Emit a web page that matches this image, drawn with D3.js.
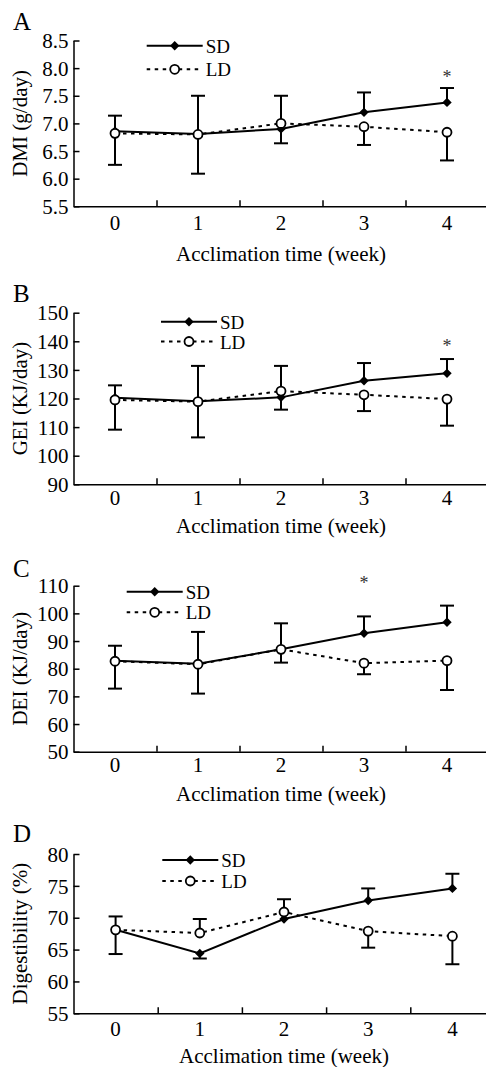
<!DOCTYPE html>
<html lang="en">
<head>
    <meta charset="UTF-8">
    <script src="https://d3js.org/d3.v7.min.js"></script>
    <title>Acclimation</title>
    <style>
        body { margin: 0; background: white; }
        svg text { font-family: "Liberation Serif", "Times New Roman", serif; fill: #000; }
        .axis path, .axis line { stroke: #000; stroke-width: 1.5px; }
    </style>
</head>
<body>
    <div id="chart"></div>

    <script>
        // data (mean, signed error bar: + up, - down)
        const weeks = [0, 1, 2, 3, 4];
        const seriesNames = ["SD", "LD"];

        const dmiSD = [6.86, 6.81, 6.90, 7.20, 7.38];
        const dmiLD = [6.82, 6.80, 7.00, 6.94, 6.84];
        const dmiSDErr = [0.28, 0.69, -0.26, 0.36, 0.26];
        const dmiLDErr = [-0.57, -0.71, 0.50, -0.33, -0.51];

        const geiSD = [120.3, 119.0, 120.4, 126.2, 128.8];
        const geiLD = [119.5, 118.9, 122.6, 121.3, 119.8];
        const geiSDErr = [4.3, 12.4, -4.3, 6.2, 5.0];
        const geiLDErr = [-10.4, -12.5, 8.8, -5.7, -9.3];

        const deiSD = [82.9, 81.8, 87.0, 92.8, 96.8];
        const deiLD = [82.7, 81.6, 87.0, 82.0, 82.9];
        const deiSDErr = [5.4, 11.5, 9.4, 6.1, 6.0];
        const deiLDErr = [-9.9, -10.6, -4.8, -4.0, -10.6];

        const digSD = [68.1, 64.4, 69.8, 72.7, 74.6];
        const digLD = [68.1, 67.6, 70.9, 67.9, 67.1];
        const digSDErr = [2.1, -0.8, 0, 1.9, 2.3];
        const digLDErr = [-3.8, 2.2, 2.0, -2.6, -4.4];

        const panelLetters = ["A", "B", "C", "D"];
        const yTitles = ["DMI (g/day)", "GEI (KJ/day)", "DEI (KJ/day)", "Digestibility (%)"];
        const xTitle = "Acclimation time (week)";
        const yDomains = [[5.5, 8.5], [90, 150], [50, 110], [55, 80]];
        const yTicksA = [5.5, 6.0, 6.5, 7.0, 7.5, 8.0, 8.5];
        const yTicksB = [90, 100, 110, 120, 130, 140, 150];
        const yTicksC = [50, 60, 70, 80, 90, 100, 110];
        const yTicksD = [55, 60, 65, 70, 75, 80];
        const sigWeek = [4, 4, 3, null];
        const sigLevel = [7.89, 139.3, 112.1, null];

        const panelData = [
            { sd: dmiSD, ld: dmiLD, sdErr: dmiSDErr, ldErr: dmiLDErr, ticks: yTicksA, fmt: ".1f" },
            { sd: geiSD, ld: geiLD, sdErr: geiSDErr, ldErr: geiLDErr, ticks: yTicksB, fmt: "d" },
            { sd: deiSD, ld: deiLD, sdErr: deiSDErr, ldErr: deiLDErr, ticks: yTicksC, fmt: "d" },
            { sd: digSD, ld: digLD, sdErr: digSDErr, ldErr: digLDErr, ticks: yTicksD, fmt: "d" }
        ];

        // pixel layout of each panel
        const layout = [
            { top: 40.5, bottom: 206.3, right: 488.5, letterY: 30, labelY: 24, titleY: 55, legX: 146.7, legY: 45.7, legGap: 23.6 },
            { top: 312.7, bottom: 484.3, right: 488.5, letterY: 301.7, labelY: 21, titleY: 49, legX: 161, legY: 321.7, legGap: 19.8 },
            { top: 585.7, bottom: 751.7, right: 488.5, letterY: 577, labelY: 20, titleY: 49, legX: 126.7, legY: 591.7, legGap: 20.6 },
            { top: 854, bottom: 1013.3, right: 494.5, letterY: 842, labelY: 22.5, titleY: 50, legX: 162.3, legY: 860, legGap: 21 }
        ];

        const W = 486, H = 1067, left = 73.5;
        const svg = d3.select("#chart").append("svg")
            .attr("width", W)
            .attr("height", H);

        const diamond = d3.symbol(d3.symbolSquare, 44);
        const fontSize = 21;

        panelData.forEach((p, i) => {
            const L = layout[i];
            const g = svg.append("g");

            const x = d3.scaleLinear().domain([-0.5, 4.5]).range([left, L.right]);
            const y = d3.scaleLinear().domain(yDomains[i]).range([L.bottom, L.top]);

            // y axis, ticks pointing inside
            g.append("g")
                .attr("class", "axis")
                .attr("transform", `translate(${left},0)`)
                .call(d3.axisLeft(y).tickValues(p.ticks).tickFormat(d3.format(p.fmt))
                    .tickSizeInner(-6).tickSizeOuter(0).tickPadding(5))
                .attr("font-family", null)
                .selectAll("text")
                .style("font-size", fontSize + "px")
                .attr("dy", "0.34em");

            // x axis, ticks between weeks
            g.append("g")
                .attr("class", "axis")
                .attr("transform", `translate(0,${L.bottom})`)
                .call(d3.axisBottom(x).tickValues([0.5, 1.5, 2.5, 3.5]).tickFormat("")
                    .tickSizeInner(-6).tickSizeOuter(0));

            g.selectAll(".xlab")
                .data(weeks)
                .enter()
                .append("text")
                .attr("x", d => x(d))
                .attr("y", L.bottom + L.labelY)
                .attr("text-anchor", "middle")
                .style("font-size", fontSize + "px")
                .text(d => d);

            g.append("text")
                .attr("x", x(2))
                .attr("y", L.bottom + L.titleY)
                .attr("text-anchor", "middle")
                .style("font-size", fontSize + "px")
                .text(xTitle);

            g.append("text")
                .attr("transform", `translate(27,${(L.top + L.bottom) / 2}) rotate(-90)`)
                .attr("text-anchor", "middle")
                .style("font-size", fontSize + "px")
                .text(yTitles[i]);

            g.append("text")
                .attr("x", 13)
                .attr("y", L.letterY)
                .style("font-size", "25px")
                .text(panelLetters[i]);

            // error bars
            const bars = [];
            weeks.forEach((w, k) => {
                bars.push({ w: w, v: p.sd[k], e: p.sdErr[k] });
                bars.push({ w: w, v: p.ld[k], e: p.ldErr[k] });
            });
            const eb = g.selectAll(".eb")
                .data(bars.filter(b => b.e !== 0))
                .enter()
                .append("g");
            eb.append("line")
                .attr("x1", d => x(d.w)).attr("x2", d => x(d.w))
                .attr("y1", d => y(d.v)).attr("y2", d => y(d.v + d.e))
                .attr("stroke", "#000").attr("stroke-width", 2);
            eb.append("line")
                .attr("x1", d => x(d.w) - 7).attr("x2", d => x(d.w) + 7)
                .attr("y1", d => y(d.v + d.e)).attr("y2", d => y(d.v + d.e))
                .attr("stroke", "#000").attr("stroke-width", 2);

            const line = d3.line()
                .x((d, k) => x(weeks[k]))
                .y(d => y(d));

            g.append("path")
                .attr("d", line(p.ld))
                .attr("fill", "none")
                .attr("stroke", "#000")
                .attr("stroke-width", 2)
                .attr("stroke-dasharray", "3.5,4.5");

            g.append("path")
                .attr("d", line(p.sd))
                .attr("fill", "none")
                .attr("stroke", "#000")
                .attr("stroke-width", 2);

            g.selectAll(".sdm")
                .data(p.sd)
                .enter()
                .append("path")
                .attr("d", diamond)
                .attr("transform", (d, k) => `translate(${x(weeks[k])},${y(d)}) rotate(45)`)
                .attr("fill", "#000");

            g.selectAll(".ldm")
                .data(p.ld)
                .enter()
                .append("circle")
                .attr("cx", (d, k) => x(weeks[k]))
                .attr("cy", d => y(d))
                .attr("r", 4.5)
                .attr("fill", "white")
                .attr("stroke", "#000")
                .attr("stroke-width", 1.8);

            if (sigWeek[i] !== null) {
                g.append("text")
                    .attr("x", x(sigWeek[i]))
                    .attr("y", y(sigLevel[i]) + 9)
                    .attr("text-anchor", "middle")
                    .style("font-size", "18px")
                    .style("fill", "#333")
                    .text("*");
            }

            // legend
            const leg = g.append("g");
            leg.append("line")
                .attr("x1", L.legX).attr("x2", L.legX + 56)
                .attr("y1", L.legY).attr("y2", L.legY)
                .attr("stroke", "#000").attr("stroke-width", 2);
            leg.append("path")
                .attr("d", diamond)
                .attr("transform", `translate(${L.legX + 28},${L.legY}) rotate(45)`)
                .attr("fill", "#000");
            leg.append("line")
                .attr("x1", L.legX).attr("x2", L.legX + 56)
                .attr("y1", L.legY + L.legGap).attr("y2", L.legY + L.legGap)
                .attr("stroke", "#000").attr("stroke-width", 2)
                .attr("stroke-dasharray", "3.5,4.5");
            leg.append("circle")
                .attr("cx", L.legX + 28).attr("cy", L.legY + L.legGap)
                .attr("r", 4.5)
                .attr("fill", "white").attr("stroke", "#000").attr("stroke-width", 1.8);
            leg.selectAll(".lt")
                .data(seriesNames)
                .enter()
                .append("text")
                .attr("x", L.legX + 59)
                .attr("y", (d, k) => L.legY + k * L.legGap + 7)
                .style("font-size", "19px")
                .text(d => d);
        });
    </script>
</body>
</html>
